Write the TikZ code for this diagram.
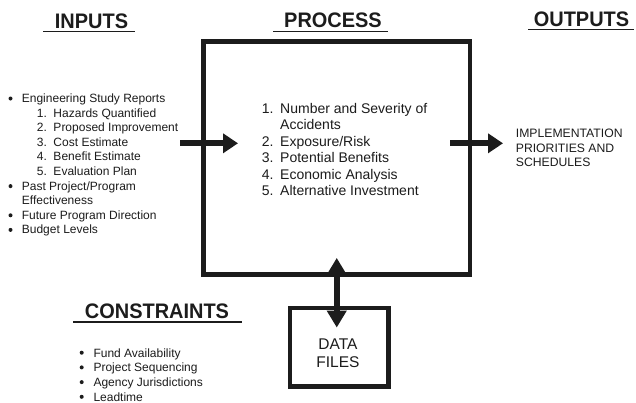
\documentclass[tikz,border=0pt]{standalone}
\usepackage{fontspec}
\setmainfont{Liberation Sans}
\usetikzlibrary{arrows.meta}
\definecolor{ink}{HTML}{1C1C1C}
\begin{document}
\begin{tikzpicture}[x=1pt,y=-1pt,
  heading/.style={font=\fontsize{21}{24}\selectfont\bfseries, text=ink, inner sep=0pt, anchor=base},
  rule/.style={draw=ink, line width=1.5pt},
  item/.style={font=\fontsize{12}{14}\selectfont, text=ink, inner sep=0pt, anchor=base west},
  stepitem/.style={font=\fontsize{14}{16}\selectfont, text=ink, inner sep=0pt, anchor=base west},
  outitem/.style={font=\fontsize{12.2}{14}\selectfont, text=ink, inner sep=0pt, anchor=base west},
  fileitem/.style={font=\fontsize{15.5}{18}\selectfont, text=ink, inner sep=0pt, anchor=base},
  dot/.style={circle, fill=ink, inner sep=0pt, minimum size=4pt},
  frame/.style={draw=ink, line width=4.8pt, inner sep=0pt},
  fat/.style={draw=ink, line width=6pt, -{Triangle[length=15pt,width=19pt]}},
  fatboth/.style={draw=ink, line width=6pt, {Triangle[length=17pt,width=19pt]}-{Triangle[length=17pt,width=19pt]}},
]
\useasboundingbox (0,0) rectangle (636,402);
\fill[white] (0,0) rectangle (636,402);

% column headings
\node[heading] (hin) at (91.5,28) {\scalebox{.95}[1]{INPUTS}};
\node[heading] (hproc) at (333,27) {\scalebox{.95}[1]{PROCESS}};
\node[heading] (hout) at (581.5,26) {\scalebox{.95}[1]{OUTPUTS}};
\node[heading] (hcon) at (157,318) {\scalebox{.95}[1]{CONSTRAINTS}};
\draw[rule] (43,31.7) -- (135,31.7);
\draw[rule] (273,31.7) -- (388,31.7);
\draw[rule] (528,29.5) -- (634,29.5);
\draw[rule] (73,322) -- (242,322);

% process and data boxes
\node[frame, minimum width=266.5pt, minimum height=233pt] (process) at (336.75,158) {};
\node[frame, minimum width=98.3pt, minimum height=78.7pt] (files) at (339.2,347.3) {};
\node[fileitem] (f1) at (338,349) {DATA};
\node[fileitem] (f2) at (338,367) {FILES};

% inputs
\node[dot] (b1) at (10.5,98.5) {};
\node[item] (i1) at (21.7,102.5) {Engineering Study Reports};
\node[item] (i2) at (36.7,117.1) {\makebox[16.6pt][l]{1.}Hazards Quantified};
\node[item] (i3) at (36.7,131.7) {\makebox[16.6pt][l]{2.}Proposed Improvement};
\node[item] (i4) at (36.7,146.3) {\makebox[16.6pt][l]{3.}Cost Estimate};
\node[item] (i5) at (36.7,160.9) {\makebox[16.6pt][l]{4.}Benefit Estimate};
\node[item] (i6) at (36.7,175.5) {\makebox[16.6pt][l]{5.}Evaluation Plan};
\node[dot] (b2) at (10.5,186.1) {};
\node[item] (i7) at (21.7,190.1) {Past Project/Program};
\node[item] (i8) at (21.7,204.7) {Effectiveness};
\node[dot] (b3) at (10.5,215.3) {};
\node[item] (i9) at (21.7,219.3) {Future Program Direction};
\node[dot] (b4) at (10.5,229.9) {};
\node[item] (i10) at (21.7,233.9) {Budget Levels};

% process steps
\node[stepitem] (p1) at (261.7,113.5) {\makebox[18.3pt][l]{1.}Number and Severity of};
\node[stepitem] (p1b) at (280,129.9) {Accidents};
\node[stepitem] (p2) at (261.7,146.3) {\makebox[18.3pt][l]{2.}Exposure/Risk};
\node[stepitem] (p3) at (261.7,162.7) {\makebox[18.3pt][l]{3.}Potential Benefits};
\node[stepitem] (p4) at (261.7,179.1) {\makebox[18.3pt][l]{4.}Economic Analysis};
\node[stepitem] (p5) at (261.7,195.5) {\makebox[18.3pt][l]{5.}Alternative Investment};

% outputs
\node[outitem] (o1) at (515.7,137.8) {IMPLEMENTATION};
\node[outitem] (o2) at (515.7,152.3) {PRIORITIES AND};
\node[outitem] (o3) at (515.7,166.8) {SCHEDULES};

% constraints
\node[dot] (c1d) at (81.7,352.7) {};
\node[item] (c1) at (93.3,357) {Fund Availability};
\node[dot] (c2d) at (81.7,367.4) {};
\node[item] (c2) at (93.3,371.7) {Project Sequencing};
\node[dot] (c3d) at (81.7,382.1) {};
\node[item] (c3) at (93.3,386.4) {Agency Jurisdictions};
\node[dot] (c4d) at (81.7,396.8) {};
\node[item] (c4) at (93.3,401) {Leadtime};

% flow arrows
\coordinate (inS) at (180,143.3);
\coordinate (inE) at (238,143.3);
\coordinate (outS) at (450,143.3);
\coordinate (outE) at (503,143.3);
\draw[fat] (inS) -- (inE);
\draw[fat] (outS) -- (outE);
\draw[fatboth, shorten <=-19pt, shorten >=-22pt] (process.south) -- (process.south |- files.north);
\end{tikzpicture}
\end{document}
